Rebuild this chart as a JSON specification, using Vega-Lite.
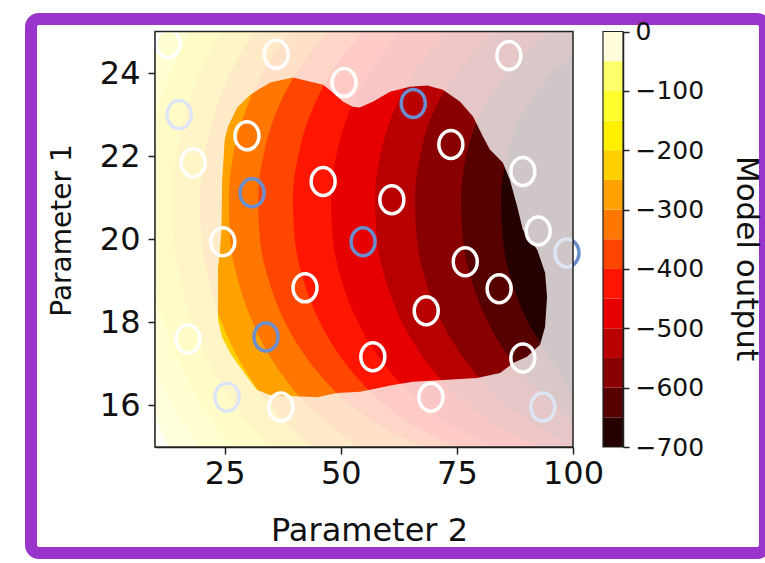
{
  "$schema": "https://vega.github.io/schema/vega-lite/v6.json",
  "width": 734,
  "height": 534,
  "autosize": {"type": "none"},
  "padding": {"left": 31, "top": 19, "right": 0, "bottom": 10},
  "background": "white",
  "config": {
    "view": {"stroke": "#9a35cc", "strokeWidth": 12, "fill": "white", "cornerRadius": 8},
    "font": "DejaVu Sans",
    "axis": {
      "grid": false,
      "domainColor": "#222",
      "domainWidth": 1.5,
      "tickColor": "#222",
      "tickWidth": 1.5,
      "tickSize": 7,
      "labelColor": "#111",
      "titleColor": "#111",
      "labelFont": "DejaVu Sans",
      "titleFont": "DejaVu Sans",
      "titleFontWeight": "normal",
      "labelFlush": false,
      "labelOverlap": false
    }
  },
  "datasets": {
    "contours": [
      {"level": 0, "y": 15, "x": 10}, {"level": 0, "y": 25, "x": 10},
      {"level": -50, "y": 15, "x": 12.8}, {"level": -50, "y": 16, "x": 7.4}, {"level": -50, "y": 17, "x": 3.2}, {"level": -50, "y": 18, "x": 0.2}, {"level": -50, "y": 19, "x": -1.9}, {"level": -50, "y": 20, "x": -3.0}, {"level": -50, "y": 21, "x": -3.2}, {"level": -50, "y": 22, "x": -2.6}, {"level": -50, "y": 23, "x": -1.0}, {"level": -50, "y": 24, "x": 1.5}, {"level": -50, "y": 25, "x": 5.0},
      {"level": -100, "y": 15, "x": 19.7}, {"level": -100, "y": 16, "x": 13.8}, {"level": -100, "y": 17, "x": 9.3}, {"level": -100, "y": 18, "x": 6.0}, {"level": -100, "y": 19, "x": 3.8}, {"level": -100, "y": 20, "x": 2.6}, {"level": -100, "y": 21, "x": 2.4}, {"level": -100, "y": 22, "x": 3.1}, {"level": -100, "y": 23, "x": 4.7}, {"level": -100, "y": 24, "x": 7.4}, {"level": -100, "y": 25, "x": 11.3},
      {"level": -150, "y": 15, "x": 26.8}, {"level": -150, "y": 16, "x": 20.2}, {"level": -150, "y": 17, "x": 15.3}, {"level": -150, "y": 18, "x": 11.8}, {"level": -150, "y": 19, "x": 9.5}, {"level": -150, "y": 20, "x": 8.2}, {"level": -150, "y": 21, "x": 7.9}, {"level": -150, "y": 22, "x": 8.7}, {"level": -150, "y": 23, "x": 10.5}, {"level": -150, "y": 24, "x": 13.4}, {"level": -150, "y": 25, "x": 17.5},
      {"level": -200, "y": 15, "x": 34.7}, {"level": -200, "y": 16, "x": 27.2}, {"level": -200, "y": 17, "x": 21.8}, {"level": -200, "y": 18, "x": 17.9}, {"level": -200, "y": 19, "x": 15.4}, {"level": -200, "y": 20, "x": 14.0}, {"level": -200, "y": 21, "x": 13.7}, {"level": -200, "y": 22, "x": 14.5}, {"level": -200, "y": 23, "x": 16.5}, {"level": -200, "y": 24, "x": 19.6}, {"level": -200, "y": 25, "x": 24.2},
      {"level": -250, "y": 15, "x": 43.4}, {"level": -250, "y": 16, "x": 34.7}, {"level": -250, "y": 17, "x": 28.6}, {"level": -250, "y": 18, "x": 24.3}, {"level": -250, "y": 19, "x": 21.5}, {"level": -250, "y": 20, "x": 20.0}, {"level": -250, "y": 21, "x": 19.7}, {"level": -250, "y": 22, "x": 20.6}, {"level": -250, "y": 23, "x": 22.7}, {"level": -250, "y": 24, "x": 26.2}, {"level": -250, "y": 25, "x": 31.3},
      {"level": -300, "y": 15, "x": 53.6}, {"level": -300, "y": 16, "x": 42.9}, {"level": -300, "y": 17, "x": 35.8}, {"level": -300, "y": 18, "x": 31.0}, {"level": -300, "y": 19, "x": 27.9}, {"level": -300, "y": 20, "x": 26.2}, {"level": -300, "y": 21, "x": 25.9}, {"level": -300, "y": 22, "x": 26.8}, {"level": -300, "y": 23, "x": 29.2}, {"level": -300, "y": 24, "x": 33.1}, {"level": -300, "y": 25, "x": 38.9},
      {"level": -350, "y": 15, "x": 67.6}, {"level": -350, "y": 15.5, "x": 58.5}, {"level": -350, "y": 16, "x": 52.2}, {"level": -350, "y": 17, "x": 43.6}, {"level": -350, "y": 18, "x": 38.0}, {"level": -350, "y": 19, "x": 34.5}, {"level": -350, "y": 20, "x": 32.6}, {"level": -350, "y": 21, "x": 32.2}, {"level": -350, "y": 22, "x": 33.3}, {"level": -350, "y": 23, "x": 35.9}, {"level": -350, "y": 24, "x": 40.4}, {"level": -350, "y": 24.5, "x": 43.5}, {"level": -350, "y": 25, "x": 47.3},
      {"level": -400, "y": 15, "x": 75.1}, {"level": -400, "y": 15.5, "x": 66.0}, {"level": -400, "y": 16, "x": 59.7}, {"level": -400, "y": 17, "x": 51.1}, {"level": -400, "y": 18, "x": 45.5}, {"level": -400, "y": 19, "x": 42.0}, {"level": -400, "y": 20, "x": 40.1}, {"level": -400, "y": 21, "x": 39.7}, {"level": -400, "y": 22, "x": 40.8}, {"level": -400, "y": 23, "x": 43.4}, {"level": -400, "y": 24, "x": 47.9}, {"level": -400, "y": 24.5, "x": 51.0}, {"level": -400, "y": 25, "x": 54.8},
      {"level": -450, "y": 15, "x": 83.3}, {"level": -450, "y": 15.5, "x": 74.2}, {"level": -450, "y": 16, "x": 67.9}, {"level": -450, "y": 17, "x": 59.3}, {"level": -450, "y": 18, "x": 53.7}, {"level": -450, "y": 19, "x": 50.2}, {"level": -450, "y": 20, "x": 48.3}, {"level": -450, "y": 21, "x": 47.9}, {"level": -450, "y": 22, "x": 49.0}, {"level": -450, "y": 23, "x": 51.6}, {"level": -450, "y": 24, "x": 56.1}, {"level": -450, "y": 24.5, "x": 59.2}, {"level": -450, "y": 25, "x": 63.0},
      {"level": -500, "y": 15, "x": 92.8}, {"level": -500, "y": 15.5, "x": 83.7}, {"level": -500, "y": 16, "x": 77.4}, {"level": -500, "y": 17, "x": 68.8}, {"level": -500, "y": 18, "x": 63.2}, {"level": -500, "y": 19, "x": 59.7}, {"level": -500, "y": 20, "x": 57.8}, {"level": -500, "y": 21, "x": 57.4}, {"level": -500, "y": 22, "x": 58.5}, {"level": -500, "y": 23, "x": 61.1}, {"level": -500, "y": 24, "x": 65.6}, {"level": -500, "y": 24.5, "x": 68.7}, {"level": -500, "y": 25, "x": 72.5},
      {"level": -550, "y": 15, "x": 101.4}, {"level": -550, "y": 15.5, "x": 92.3}, {"level": -550, "y": 16, "x": 86.0}, {"level": -550, "y": 17, "x": 77.4}, {"level": -550, "y": 18, "x": 71.8}, {"level": -550, "y": 19, "x": 68.3}, {"level": -550, "y": 20, "x": 66.4}, {"level": -550, "y": 21, "x": 66.0}, {"level": -550, "y": 22, "x": 67.1}, {"level": -550, "y": 23, "x": 69.7}, {"level": -550, "y": 24, "x": 75.0}, {"level": -550, "y": 24.5, "x": 78.8}, {"level": -550, "y": 25, "x": 83.5},
      {"level": -600, "y": 15, "x": 111.3}, {"level": -600, "y": 15.5, "x": 102.2}, {"level": -600, "y": 16, "x": 95.9}, {"level": -600, "y": 17, "x": 87.3}, {"level": -600, "y": 18, "x": 81.7}, {"level": -600, "y": 19, "x": 78.2}, {"level": -600, "y": 20, "x": 76.3}, {"level": -600, "y": 21, "x": 75.9}, {"level": -600, "y": 22, "x": 77.0}, {"level": -600, "y": 23, "x": 80.0}, {"level": -600, "y": 24, "x": 86.0}, {"level": -600, "y": 24.5, "x": 90.0}, {"level": -600, "y": 25, "x": 95.0},
      {"level": -650, "y": 15, "x": 119.9}, {"level": -650, "y": 15.5, "x": 110.8}, {"level": -650, "y": 16, "x": 104.5}, {"level": -650, "y": 17, "x": 95.9}, {"level": -650, "y": 18, "x": 90.3}, {"level": -650, "y": 19, "x": 86.8}, {"level": -650, "y": 20, "x": 84.9}, {"level": -650, "y": 21, "x": 84.5}, {"level": -650, "y": 22, "x": 85.8}, {"level": -650, "y": 23, "x": 89.0}, {"level": -650, "y": 24, "x": 95.5}, {"level": -650, "y": 24.5, "x": 100.5}, {"level": -650, "y": 25, "x": 106.0}
    ],
    "shade": [
      {"x": 10, "y": 15}, {"x": 10, "y": 25}, {"x": 100, "y": 25}, {"x": 100, "y": 15}, {"x": 10, "y": 15},
      {"x": 23.57, "y": 18.06}, {"x": 24.43, "y": 17.65}, {"x": 26.15, "y": 17.27}, {"x": 27.66, "y": 17.02}, {"x": 29.81, "y": 16.69}, {"x": 31.96, "y": 16.37}, {"x": 34.76, "y": 16.25}, {"x": 39.07, "y": 16.23}, {"x": 44.88, "y": 16.2}, {"x": 49.19, "y": 16.3}, {"x": 54.14, "y": 16.33}, {"x": 61.25, "y": 16.49}, {"x": 65.56, "y": 16.57}, {"x": 72.02, "y": 16.61}, {"x": 79.34, "y": 16.66}, {"x": 84.29, "y": 16.78}, {"x": 87.09, "y": 17.02}, {"x": 90.1, "y": 17.17}, {"x": 92.9, "y": 17.46}, {"x": 93.98, "y": 17.89}, {"x": 94.41, "y": 18.61},
      {"x": 94.0, "y": 19.19}, {"x": 92.3, "y": 19.75}, {"x": 89.2, "y": 20.23}, {"x": 88.0, "y": 20.78}, {"x": 86.4, "y": 21.43}, {"x": 84.9, "y": 21.84}, {"x": 82.1, "y": 22.16}, {"x": 80.6, "y": 22.47}, {"x": 78.5, "y": 22.95}, {"x": 75.7, "y": 23.31}, {"x": 72.0, "y": 23.6}, {"x": 68.6, "y": 23.7}, {"x": 64.9, "y": 23.67}, {"x": 60.6, "y": 23.55}, {"x": 56.9, "y": 23.31}, {"x": 54.1, "y": 23.17}, {"x": 52.6, "y": 23.19}, {"x": 50.5, "y": 23.31}, {"x": 48.1, "y": 23.55}, {"x": 46.2, "y": 23.72}, {"x": 39.7, "y": 23.89}, {"x": 34.8, "y": 23.77}, {"x": 30.5, "y": 23.48}, {"x": 27.7, "y": 23.17}, {"x": 25.7, "y": 22.71}, {"x": 25.0, "y": 22.4}, {"x": 24.8, "y": 22.0}, {"x": 24.45, "y": 21.4}, {"x": 24.3, "y": 20.2}, {"x": 24.0, "y": 19.75}, {"x": 23.57, "y": 19.3}, {"x": 23.57, "y": 18.06},
      {"x": 10, "y": 15}
    ],
    "samples": [
      {"x": 12.8, "y": 24.71, "g": "A"}, {"x": 36.1, "y": 24.45, "g": "A"}, {"x": 50.7, "y": 23.77, "g": "A"}, {"x": 86.2, "y": 24.42, "g": "A"},
      {"x": 15.2, "y": 23.0, "g": "B"}, {"x": 65.6, "y": 23.27, "g": "B"}, {"x": 29.8, "y": 22.49, "g": "A"}, {"x": 73.7, "y": 22.28, "g": "A"},
      {"x": 18.2, "y": 21.84, "g": "A"}, {"x": 89.2, "y": 21.63, "g": "A"}, {"x": 30.9, "y": 21.12, "g": "B"}, {"x": 46.2, "y": 21.39, "g": "A"},
      {"x": 61.0, "y": 20.95, "g": "A"}, {"x": 24.6, "y": 19.94, "g": "A"}, {"x": 54.8, "y": 19.94, "g": "B"}, {"x": 92.5, "y": 20.2, "g": "A"},
      {"x": 98.7, "y": 19.67, "g": "B"}, {"x": 76.8, "y": 19.46, "g": "A"}, {"x": 42.3, "y": 18.83, "g": "A"}, {"x": 84.1, "y": 18.81, "g": "A"},
      {"x": 68.4, "y": 18.28, "g": "A"}, {"x": 17.1, "y": 17.6, "g": "A"}, {"x": 33.9, "y": 17.65, "g": "B"}, {"x": 56.9, "y": 17.17, "g": "A"},
      {"x": 89.2, "y": 17.14, "g": "A"}, {"x": 25.5, "y": 16.2, "g": "B"}, {"x": 37.1, "y": 15.96, "g": "A"}, {"x": 69.4, "y": 16.2, "g": "A"},
      {"x": 93.5, "y": 15.96, "g": "B"}
    ],
    "bands": [
      {"lo": -700, "hi": -650}, {"lo": -650, "hi": -600}, {"lo": -600, "hi": -550}, {"lo": -550, "hi": -500},
      {"lo": -500, "hi": -450}, {"lo": -450, "hi": -400}, {"lo": -400, "hi": -350}, {"lo": -350, "hi": -300},
      {"lo": -300, "hi": -250}, {"lo": -250, "hi": -200}, {"lo": -200, "hi": -150}, {"lo": -150, "hi": -100},
      {"lo": -100, "hi": -50}, {"lo": -50, "hi": 0}
    ]
  },
  "resolve": {"scale": {"x": "independent", "y": "independent"}},
  "layer": [
    {
      "layer": [
        {
          "encoding": {
            "x": {
              "field": "x", "type": "quantitative",
              "scale": {"domain": [10, 100], "range": [124, 542], "clamp": true, "nice": false, "zero": false},
              "axis": {"orient": "bottom", "offset": -106, "values": [25, 50, 75, 100], "title": "Parameter 2",
                       "labelFontSize": 32, "labelPadding": 4, "titleFontSize": 32,
                       "titleX": 338, "titleY": 93, "titleAlign": "center", "titleBaseline": "alphabetic"}
            },
            "y": {
              "field": "y", "type": "quantitative",
              "scale": {"domain": [15, 25], "range": [428, 12.5], "clamp": true, "nice": false, "zero": false},
              "axis": {"orient": "left", "offset": -124, "values": [16, 18, 20, 22, 24], "title": "Parameter 1",
                       "labelFontSize": 32, "labelPadding": 8, "titleFontSize": 28,
                       "titleX": -93, "titleY": 211, "titleAngle": -90, "titleAlign": "center", "titleBaseline": "middle"}
            }
          },
          "layer": [
            {
              "data": {"name": "contours"},
              "encoding": {
                "x2": {"datum": 100},
                "color": {
                  "field": "level", "type": "ordinal", "legend": null,
                  "scale": {
                    "domain": [0, -50, -100, -150, -200, -250, -300, -350, -400, -450, -500, -550, -600, -650],
                    "range": ["#fffddb", "#ffff6a", "#ffff2e", "#fff000", "#ffd000", "#ffa200", "#ff7600", "#ff4600", "#ff1600", "#e60000", "#b80000", "#880000", "#560000", "#240000"]
                  }
                }
              },
              "layer": [
                {"transform": [{"filter": {"field": "level", "equal": 0}}], "mark": {"type": "area", "orient": "horizontal", "interpolate": "linear"}},
                {"transform": [{"filter": {"field": "level", "equal": -50}}], "mark": {"type": "area", "orient": "horizontal", "interpolate": "monotone"}},
                {"transform": [{"filter": {"field": "level", "equal": -100}}], "mark": {"type": "area", "orient": "horizontal", "interpolate": "monotone"}},
                {"transform": [{"filter": {"field": "level", "equal": -150}}], "mark": {"type": "area", "orient": "horizontal", "interpolate": "monotone"}},
                {"transform": [{"filter": {"field": "level", "equal": -200}}], "mark": {"type": "area", "orient": "horizontal", "interpolate": "monotone"}},
                {"transform": [{"filter": {"field": "level", "equal": -250}}], "mark": {"type": "area", "orient": "horizontal", "interpolate": "monotone"}},
                {"transform": [{"filter": {"field": "level", "equal": -300}}], "mark": {"type": "area", "orient": "horizontal", "interpolate": "monotone"}},
                {"transform": [{"filter": {"field": "level", "equal": -350}}], "mark": {"type": "area", "orient": "horizontal", "interpolate": "monotone"}},
                {"transform": [{"filter": {"field": "level", "equal": -400}}], "mark": {"type": "area", "orient": "horizontal", "interpolate": "monotone"}},
                {"transform": [{"filter": {"field": "level", "equal": -450}}], "mark": {"type": "area", "orient": "horizontal", "interpolate": "monotone"}},
                {"transform": [{"filter": {"field": "level", "equal": -500}}], "mark": {"type": "area", "orient": "horizontal", "interpolate": "monotone"}},
                {"transform": [{"filter": {"field": "level", "equal": -550}}], "mark": {"type": "area", "orient": "horizontal", "interpolate": "monotone"}},
                {"transform": [{"filter": {"field": "level", "equal": -600}}], "mark": {"type": "area", "orient": "horizontal", "interpolate": "monotone"}},
                {"transform": [{"filter": {"field": "level", "equal": -650}}], "mark": {"type": "area", "orient": "horizontal", "interpolate": "monotone"}}
              ]
            },
            {
              "data": {"name": "samples"},
              "mark": {"type": "point", "filled": false, "strokeWidth": 3.5, "size": 576, "opacity": 1,
                       "shape": "M-1,0A1,1.1667,0,1,1,1,0A1,1.1667,0,1,1,-1,0Z"},
              "encoding": {
                "stroke": {"field": "g", "type": "nominal", "legend": null,
                           "scale": {"domain": ["A", "B"], "range": ["#ffffff", "#6b8ecf"]}}
              }
            },
            {
              "data": {"name": "shade"},
              "mark": {"type": "line", "fill": "white", "fillOpacity": 0.78, "strokeOpacity": 0, "strokeWidth": 0, "interpolate": "linear"},
              "encoding": {"order": {"value": null}}
            }
          ]
        },
        {
          "data": {"values": [{}]},
          "mark": {"type": "rect", "fill": "transparent", "stroke": "#222", "strokeWidth": 1.5},
          "encoding": {"x": {"datum": 10}, "x2": {"datum": 100}, "y": {"datum": 15}, "y2": {"datum": 25}}
        }
      ]
    },
    {
      "data": {"name": "bands"},
      "encoding": {
        "x": {"datum": 0, "type": "quantitative", "scale": {"domain": [0, 1], "range": [572, 592]}, "axis": null},
        "x2": {"datum": 1}
      },
      "layer": [
        {
          "mark": {"type": "rect"},
          "encoding": {
            "y": {
              "field": "lo", "type": "quantitative",
              "scale": {"domain": [-700, 0], "range": [428, 12.5], "nice": false, "zero": false},
              "axis": {"orient": "right", "offset": -142, "values": [-700, -600, -500, -400, -300, -200, -100, 0],
                       "title": "Model output", "labelFontSize": 25, "labelPadding": 6, "tickSize": 6,
                       "titleFontSize": 31, "titleAngle": 90, "titleX": 122, "titleY": 239,
                       "titleAlign": "center", "titleBaseline": "middle"}
            },
            "y2": {"field": "hi"},
            "color": {
              "field": "hi", "type": "ordinal", "legend": null,
              "scale": {
                "domain": [0, -50, -100, -150, -200, -250, -300, -350, -400, -450, -500, -550, -600, -650],
                "range": ["#fffddb", "#ffff6a", "#ffff2e", "#fff000", "#ffd000", "#ffa200", "#ff7600", "#ff4600", "#ff1600", "#e60000", "#b80000", "#880000", "#560000", "#240000"]
              }
            }
          }
        },
        {
          "data": {"values": [{}]},
          "mark": {"type": "rect", "fill": "transparent", "stroke": "#222", "strokeWidth": 1.2},
          "encoding": {"y": {"datum": -700}, "y2": {"datum": 0}}
        }
      ]
    }
  ]
}
